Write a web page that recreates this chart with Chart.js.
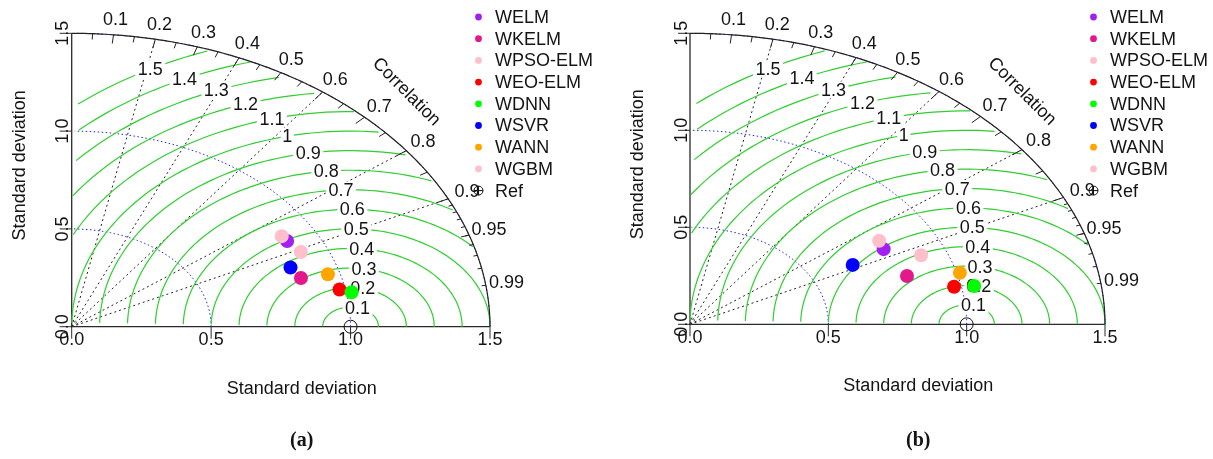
<!DOCTYPE html>
<html>
<head>
<meta charset="utf-8">
<script src="https://cdn.jsdelivr.net/npm/chart.js@4.4.1/dist/chart.umd.min.js"></script>
<style>
  html, body { margin: 0; padding: 0; background: #fff; width: 1213px; height: 459px; overflow: hidden; }
  canvas.panel { position: absolute; top: 0; }
</style>
</head>
<body>
<canvas id="panelA" class="panel" width="606" height="459" style="left:0px"></canvas>
<canvas id="panelB" class="panel" width="607" height="459" style="left:606px"></canvas>
<script>
// Models compared against the reference series
const models = ['WELM', 'WKELM', 'WPSO-ELM', 'WEO-ELM', 'WDNN', 'WSVR', 'WANN', 'WGBM'];
const modelColors = ['#A020F0', '#E3198B', '#FFC0CB', '#FF0000', '#00FF00', '#0000FF', '#FFA500', '#FFC0CB'];

// (a) normalised standard deviation and correlation of each model
const sdA  = [0.888, 0.859, 0.884, 0.979, 1.019, 0.841, 0.957, 0.906];
const corA = [0.870, 0.957, 0.852, 0.981, 0.985, 0.933, 0.960, 0.907];

// (b) normalised standard deviation and correlation of each model
const sdB  = [0.800, 0.823, 0.808, 0.974, 1.046, 0.663, 1.011, 0.908];
const corB = [0.875, 0.953, 0.846, 0.980, 0.982, 0.887, 0.965, 0.920];

// Diagram furniture
const refSd = 1.0;
const maxSd = 1.5;
const sdTicks = [0, 0.5, 1.0, 1.5];
const sdTickLabels = ['0.0', '0.5', '1.0', '1.5'];
const sdArcs = [0.5, 1.0, 1.5];
const corRays = [0.2, 0.4, 0.6, 0.8, 0.9];
const corLabels = [0.1, 0.2, 0.3, 0.4, 0.5, 0.6, 0.7, 0.8, 0.9, 0.95, 0.99];
const rmsLevels = [0.1, 0.2, 0.3, 0.4, 0.5, 0.6, 0.7, 0.8, 0.9, 1, 1.1, 1.2, 1.3, 1.4, 1.5];
const rmsLabelStep = [45, 46, 48, 50, 52, 53, 55, 57, 59, 61, 62, 64, 66, 68, 70];

const FONT = '18px "Liberation Sans", Arial, sans-serif';
const INK = '#141414';

function polar(sd, cor) {
  return { x: sd * cor, y: sd * Math.sqrt(Math.max(0, 1 - cor * cor)) };
}

const taylorGrid = {
  id: 'taylorGrid',
  beforeDatasetsDraw(chart, args, opts) {
    const ctx = chart.ctx;
    const X = v => chart.scales.x.getPixelForValue(v);
    const Y = v => chart.scales.y.getPixelForValue(v);
    const line = pts => {
      ctx.beginPath();
      pts.forEach((p, i) => i ? ctx.lineTo(X(p[0]), Y(p[1])) : ctx.moveTo(X(p[0]), Y(p[1])));
      ctx.stroke();
    };
    ctx.save();

    // dotted correlation rays
    ctx.strokeStyle = '#222';
    ctx.lineWidth = 1;
    ctx.setLineDash([2, 3]);
    corRays.forEach(c => line([[0, 0], [maxSd * c, maxSd * Math.sqrt(1 - c * c)]]));
    ctx.setLineDash([]);

    // axes with ticks
    ctx.strokeStyle = '#2a2a2a';
    ctx.lineWidth = 1.3;
    line([[0, maxSd], [0, 0], [maxSd, 0]]);
    ctx.lineWidth = 1;
    ctx.font = FONT;
    ctx.fillStyle = INK;
    sdTicks.forEach((t, i) => {
      ctx.beginPath();
      ctx.moveTo(X(t), Y(0)); ctx.lineTo(X(t), Y(0) + 12);
      ctx.moveTo(X(0), Y(t)); ctx.lineTo(X(0) - 12, Y(t));
      ctx.stroke();
      ctx.textAlign = 'center';
      ctx.textBaseline = 'alphabetic';
      ctx.fillText(sdTickLabels[i], X(t), Y(0) + 18.5);
      ctx.save();
      ctx.translate(X(0) - 3.5, Y(t));
      ctx.rotate(-Math.PI / 2);
      ctx.fillText(sdTickLabels[i], 0, 0);
      ctx.restore();
    });

    // axis titles
    ctx.textAlign = 'center';
    ctx.fillText('Standard deviation', X(0.825), Y(0) + 67);
    ctx.save();
    ctx.translate(X(0) - 47, Y(0.825));
    ctx.rotate(-Math.PI / 2);
    ctx.fillText('Standard deviation', 0, 0);
    ctx.restore();

    // blue standard deviation arcs
    ctx.strokeStyle = '#2020ff';
    ctx.setLineDash([1.5, 2.5]);
    sdArcs.forEach(s => {
      const pts = [];
      for (let a = 0; a <= Math.PI / 2 + 1e-9; a += 0.03) pts.push([Math.cos(a) * s, Math.sin(a) * s]);
      line(pts);
    });
    ctx.setLineDash([]);

    // centred RMS difference contours around the reference
    ctx.strokeStyle = '#2fcf2f';
    ctx.lineWidth = 1.2;
    rmsLevels.forEach((g, gi) => {
      const xs = [], ys = [];
      for (let i = 0; i < 105; i++) {
        const a = i * 0.03;
        xs.push(Math.cos(a) * g + refSd);
        ys.push(Math.sin(a) * g);
      }
      let end = xs.findIndex(v => v < 0);
      end = end >= 0 ? end - 1 : 104;
      let start = 0;
      xs.forEach((v, i) => { if (v * v + ys[i] * ys[i] > maxSd * maxSd) start = i + 1; });
      const pts = [];
      for (let i = start; i <= end; i++) pts.push([xs[i], ys[i]]);
      line(pts);
    });
    ctx.fillStyle = INK;
    ctx.textAlign = 'center';
    ctx.textBaseline = 'middle';
    rmsLevels.forEach((g, gi) => {
      const a = (rmsLabelStep[gi] - 1) * 0.03;
      const lx = Math.cos(a) * g + refSd, ly = Math.sin(a) * g;
      if (lx <= 0) return;
      const txt = String(g);
      const w = ctx.measureText(txt).width * 1.12 + 2;
      ctx.fillStyle = '#fff';
      ctx.fillRect(X(lx) - w / 2, Y(ly) - 8.5, w, 17);
      ctx.fillStyle = INK;
      ctx.fillText(txt, X(lx), Y(ly) + 1);
    });

    // outer standard deviation boundary
    ctx.strokeStyle = '#222';
    ctx.lineWidth = 1.2;
    const rim = [];
    for (let a = 0; a <= Math.PI / 2 + 1e-9; a += 0.01) rim.push([Math.cos(a) * maxSd, Math.sin(a) * maxSd]);
    rim.push([0, maxSd]);
    line(rim);

    // correlation ticks on the rim
    ctx.lineWidth = 1;
    const tick = (c, f) => {
      const s = Math.sqrt(1 - c * c);
      line([[c * maxSd, s * maxSd], [c * maxSd * f, s * maxSd * f]]);
    };
    [0.1, 0.2, 0.3, 0.4, 0.5, 0.6, 0.7, 0.8, 0.9].forEach(c => tick(c, 0.97));
    [0.05, 0.15, 0.25, 0.35, 0.45, 0.55, 0.65, 0.75, 0.85, 0.95].forEach(c => tick(c, 0.98));
    [0.91, 0.92, 0.93, 0.94, 0.95, 0.96, 0.97, 0.98, 0.99].forEach(c => tick(c, 0.99));

    // reference point
    ctx.strokeStyle = '#111';
    ctx.beginPath();
    ctx.arc(X(refSd), Y(0), 6.5, 0, Math.PI * 2);
    ctx.stroke();

    // correlation labels
    ctx.fillStyle = INK;
    ctx.textAlign = 'center';
    ctx.textBaseline = 'middle';
    corLabels.forEach(c => {
      const p = polar(maxSd * 1.05, c);
      ctx.fillText(String(c), X(p.x), Y(p.y));
    });
    ctx.save();
    ctx.translate(X(maxSd * 0.8), Y(maxSd * 0.8));
    ctx.rotate(Math.PI / 4);
    ctx.fillText('Correlation', 0, 0);
    ctx.restore();

    // panel tag
    ctx.font = 'bold 20px "Liberation Serif", "DejaVu Serif", serif';
    ctx.textBaseline = 'alphabetic';
    ctx.fillText(opts.tag, X(0.825), 446);
    ctx.restore();
  },
  afterDatasetsDraw(chart) {
    const ctx = chart.ctx;
    const right = chart.scales.x.getPixelForValue(maxSd);
    ctx.save();
    ctx.font = FONT;
    ctx.textAlign = 'left';
    ctx.textBaseline = 'middle';
    models.forEach((m, i) => {
      const y = 17 + i * 21.7;
      ctx.fillStyle = modelColors[i];
      ctx.beginPath();
      ctx.arc(right - 11.5, y, 3.4, 0, Math.PI * 2);
      ctx.fill();
      ctx.fillStyle = INK;
      ctx.fillText(m, right + 5, y + 1);
    });
    const y = 17 + models.length * 21.7;
    ctx.strokeStyle = '#111';
    ctx.lineWidth = 1;
    ctx.beginPath();
    ctx.arc(right - 11.5, y, 4.5, 0, Math.PI * 2);
    ctx.moveTo(right - 16, y); ctx.lineTo(right - 7, y);
    ctx.moveTo(right - 11.5, y - 4.5); ctx.lineTo(right - 11.5, y + 4.5);
    ctx.stroke();
    ctx.fillStyle = INK;
    ctx.fillText('Ref', right + 5, y + 1);
    ctx.restore();
  }
};

function taylorChart(id, sd, cor, tag, pad) {
  const datasets = models.map((m, i) => {
    const p = polar(sd[i], cor[i]);
    return {
      label: m,
      data: [p],
      backgroundColor: modelColors[i],
      borderWidth: 0,
      pointRadius: 7,
      pointHoverRadius: 7,
      order: -i,
      clip: false
    };
  });
  return new Chart(document.getElementById(id), {
    type: 'scatter',
    data: { datasets },
    options: {
      responsive: false,
      animation: false,
      events: [],
      layout: { padding: pad },
      scales: {
        x: { type: 'linear', min: 0, max: maxSd, display: false },
        y: { type: 'linear', min: 0, max: maxSd, display: false }
      },
      plugins: {
        legend: { display: false },
        tooltip: { enabled: false },
        taylorGrid: { tag }
      }
    },
    plugins: [taylorGrid]
  });
}

taylorChart('panelA', sdA, corA, '(a)', { left: 71.7, right: 116, top: 33.3, bottom: 132.3 });
taylorChart('panelB', sdB, corB, '(b)', { left: 84, right: 108, top: 33.3, bottom: 134.7 });
</script>
</body>
</html>
